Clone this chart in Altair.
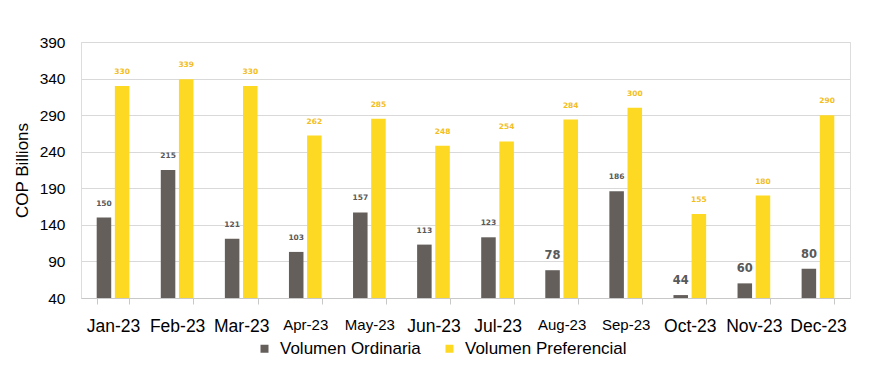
import altair as alt
import pandas as pd

months = ["Jan-23", "Feb-23", "Mar-23", "Apr-23", "May-23", "Jun-23",
          "Jul-23", "Aug-23", "Sep-23", "Oct-23", "Nov-23", "Dec-23"]
ordinaria = [150, 215, 121, 103, 157, 113, 123, 78, 186, 44, 60, 80]
preferencial = [330, 339, 330, 262, 285, 248, 254, 284, 300, 155, 180, 290]
series = ["Volumen Ordinaria", "Volumen Preferencial"]
y_ticks = [40, 90, 140, 190, 240, 290, 340, 390]
small_month_labels = ["Apr-23", "May-23", "Aug-23", "Sep-23"]
big_value_labels = ["Aug-23", "Oct-23", "Nov-23", "Dec-23"]

GRAY = "#645F5B"
YELLOW = "#FDD923"
GRAY_TXT = "#595959"
YELLOW_TXT = "#F2BE1E"

rows = []
for m, o, p in zip(months, ordinaria, preferencial):
    rows.append({"month": m, "series": series[0], "value": o})
    rows.append({"month": m, "series": series[1], "value": p})
df = pd.DataFrame(rows)

small_list = "[" + ",".join("'%s'" % s for s in small_month_labels) + "]"
big_list = "[" + ",".join("'%s'" % s for s in big_value_labels) + "]"

x_enc = alt.X(
    "month:N", sort=months, title=None,
    scale=alt.Scale(paddingInner=0.49, paddingOuter=0.245),
    axis=alt.Axis(
        tickBand="extent", labelAngle=0, grid=False, gridOpacity=0,
        labelFont="Liberation Sans", labelColor="#000000",
        labelFontSize=alt.ExprRef(expr="indexof(%s, datum.value) >= 0 ? 15 : 17.5" % small_list),
        labelPadding=13, labelBaseline="top", labelOverlap=False,
        domainColor="#C8C8C8", tickColor="#C8C8C8", tickSize=6,
    ),
)
xoff = alt.XOffset("series:N", sort=series,
                   scale=alt.Scale(paddingInner=0.2, paddingOuter=0))
y_scale = alt.Scale(domain=[y_ticks[0], y_ticks[-1]], nice=False, zero=False)
y_enc = alt.Y(
    "value:Q", scale=y_scale, title="COP Billions",
    axis=alt.Axis(
        values=y_ticks, domain=False, ticks=False, labelOverlap=False,
        gridColor="#D9D9D9", gridWidth=1,
        labelFont="Liberation Sans", labelFontSize=15.5, labelColor="#000000",
        labelPadding=16,
        titleFont="Liberation Sans", titleFontSize=17, titleFontWeight="normal",
        titleColor="#000000", titlePadding=8,
    ),
)

bars = alt.Chart(df).mark_bar().encode(
    x=x_enc, xOffset=xoff, y=y_enc, y2=alt.datum(y_ticks[0]),
    color=alt.Color(
        "series:N",
        scale=alt.Scale(domain=series, range=[GRAY, YELLOW]),
        legend=alt.Legend(
            title=None, orient="none", direction="horizontal",
            legendX=175, legendY=298,
            symbolType="square", symbolSize=64, symbolStrokeWidth=0,
            labelFont="Liberation Sans", labelFontSize=17, labelColor="#000000",
            labelOffset=7, columnPadding=20, labelLimit=400,
        ),
    ),
)

labels = alt.Chart(df).mark_text(
    dy=-14, baseline="middle", font="DejaVu Sans", fontWeight="bold",
).encode(
    x=x_enc,
    xOffset=xoff,
    y=y_enc,
    text=alt.Text("value:Q"),
    size=alt.condition(
        "datum.series == '%s' && indexof(%s, datum.month) >= 0" % (series[0], big_list),
        alt.value(11.5), alt.value(7.5)),
    color=alt.condition(
        "datum.series == '%s'" % series[0],
        alt.value(GRAY_TXT), alt.value(YELLOW_TXT)),
)

chart = alt.layer(bars, labels).properties(
    width=769, height=256,
    padding={"left": 5, "top": 27, "right": 10, "bottom": 0},
).configure_view(strokeWidth=0, stroke="transparent").configure_axisY(
    domain=False, domainOpacity=0
).configure_axisX(gridOpacity=0).configure(background="#FFFFFF")

chart.save("out.html", embed_options={"renderer": "svg", "actions": False})
